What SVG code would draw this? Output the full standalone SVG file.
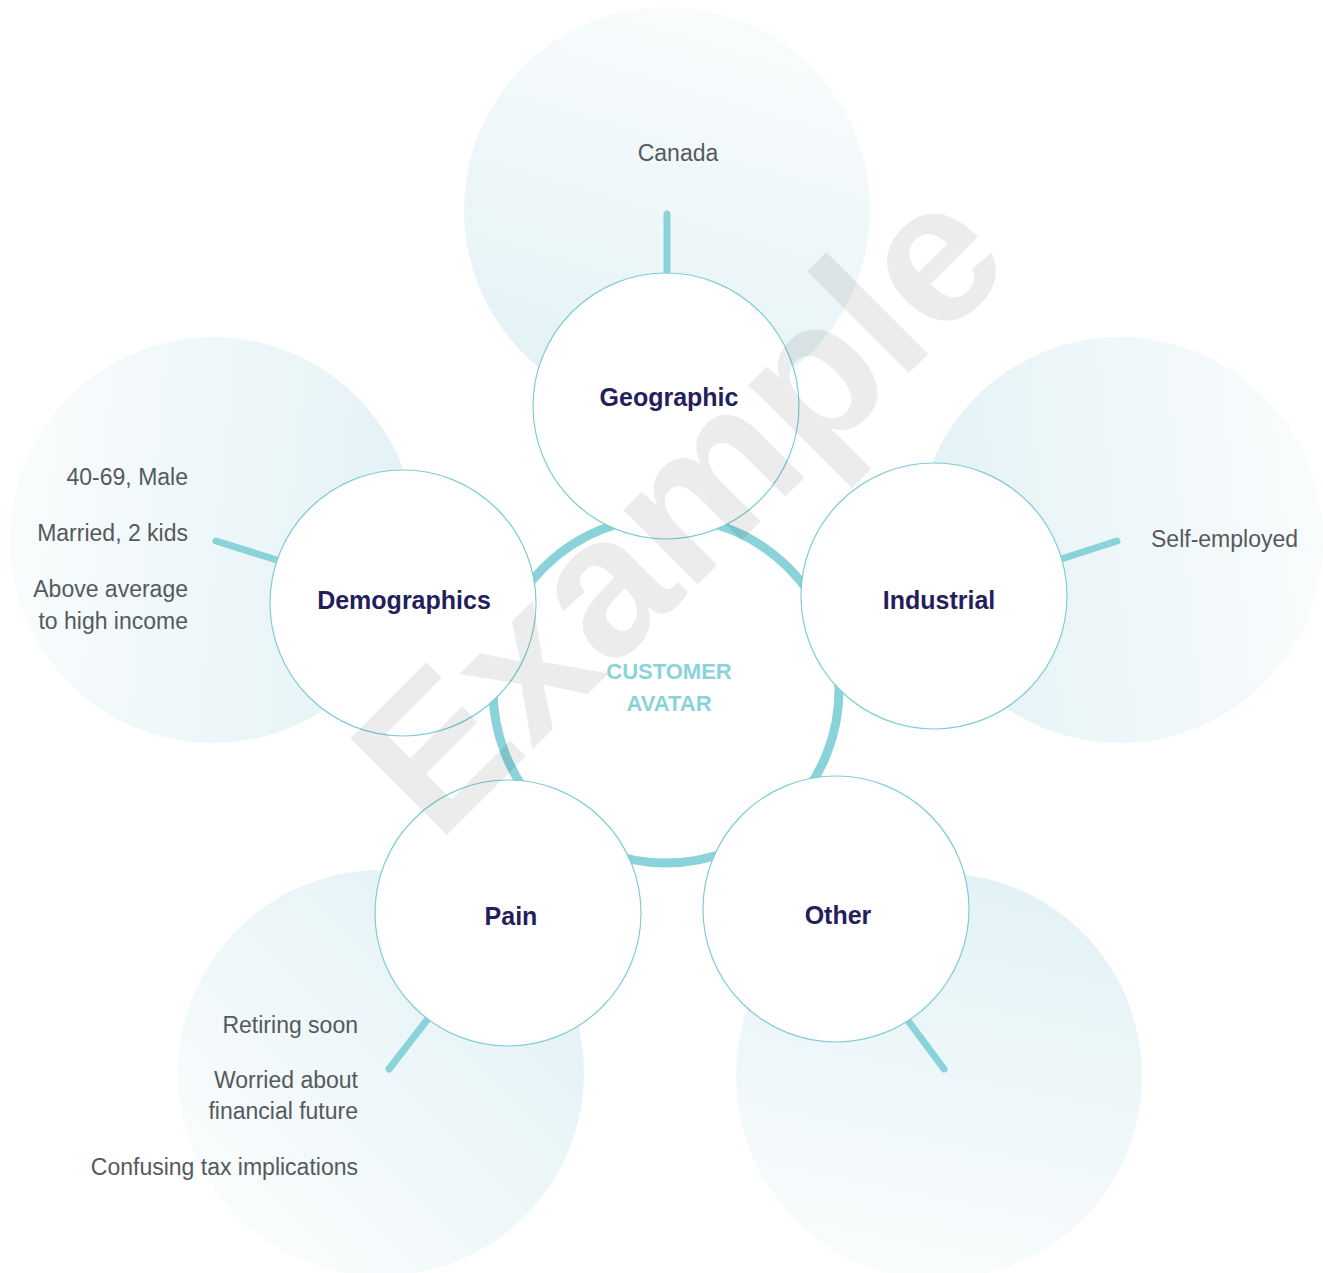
<svg xmlns="http://www.w3.org/2000/svg" width="1323" height="1273" viewBox="0 0 1323 1273">
  <defs>
    <linearGradient id="gTop" x1="0.35" y1="1" x2="0.65" y2="0">
      <stop offset="0" stop-color="#e3f2f5"/>
      <stop offset="1" stop-color="#f9fcfd"/>
    </linearGradient>
    <linearGradient id="gLeft" x1="1" y1="0.55" x2="0" y2="0.45">
      <stop offset="0" stop-color="#e3f2f5"/>
      <stop offset="1" stop-color="#f9fcfd"/>
    </linearGradient>
    <linearGradient id="gRight" x1="0" y1="0.55" x2="1" y2="0.45">
      <stop offset="0" stop-color="#e3f2f5"/>
      <stop offset="1" stop-color="#f9fcfd"/>
    </linearGradient>
    <linearGradient id="gBL" x1="0.85" y1="0.15" x2="0.15" y2="0.85">
      <stop offset="0" stop-color="#e3f2f5"/>
      <stop offset="1" stop-color="#f9fcfd"/>
    </linearGradient>
    <linearGradient id="gBR" x1="0.6" y1="0" x2="0.4" y2="1">
      <stop offset="0" stop-color="#e3f2f5"/>
      <stop offset="1" stop-color="#f9fcfd"/>
    </linearGradient>
    <style>
      .node { fill: #ffffff; stroke: #7fcdd6; stroke-width: 1.2; }
      .spoke { stroke: #8ad3db; stroke-width: 7; stroke-linecap: round; fill: none; }
      .ring { fill: #ffffff; stroke: #8ad3db; stroke-width: 9; }
      .title { font-family: "Liberation Sans", Arial, sans-serif; font-weight: bold; font-size: 25px; fill: #241f5c; text-anchor: middle; }
      .item { font-family: "Liberation Sans", Arial, sans-serif; font-size: 23px; fill: #55595e; }
      .center { font-family: "Liberation Sans", Arial, sans-serif; font-weight: bold; font-size: 22px; fill: #8ad3db; text-anchor: middle; }
      .mark { font-family: "Liberation Sans", Arial, sans-serif; font-weight: bold; font-size: 199px; fill: #000000; fill-opacity: 0.075; text-anchor: middle; }
    </style>
  </defs>

  <!-- soft background discs behind each category -->
  <g id="backdrops">
    <circle cx="667" cy="210" r="203" fill="url(#gTop)"/>
    <circle cx="213" cy="540" r="203" fill="url(#gLeft)"/>
    <circle cx="1120" cy="540" r="203" fill="url(#gRight)"/>
    <circle cx="381" cy="1073" r="203" fill="url(#gBL)"/>
    <circle cx="939" cy="1076" r="203" fill="url(#gBR)"/>
  </g>

  <!-- hub ring and spokes -->
  <g id="connectors">
    <circle class="ring" cx="666" cy="690" r="173"/>
    <line class="spoke" x1="667" y1="214" x2="667" y2="280"/>
    <line class="spoke" x1="216" y1="541" x2="280" y2="561"/>
    <line class="spoke" x1="1117" y1="541" x2="1058" y2="560"/>
    <line class="spoke" x1="389" y1="1069" x2="430" y2="1016"/>
    <line class="spoke" x1="944" y1="1069" x2="906" y2="1018"/>
  </g>

  <g id="hub">
    <text class="center" x="669" y="679">CUSTOMER</text>
    <text class="center" x="669" y="711">AVATAR</text>
  </g>

  <g id="geographic">
    <circle class="node" cx="666" cy="406" r="133"/>
    <text class="title" x="669" y="406">Geographic</text>
    <text class="item" x="678" y="161" text-anchor="middle">Canada</text>
  </g>

  <g id="demographics">
    <circle class="node" cx="403" cy="603" r="133"/>
    <text class="title" x="404" y="609">Demographics</text>
    <g class="item" text-anchor="end">
      <text x="188" y="485">40-69, Male</text>
      <text x="188" y="541">Married, 2 kids</text>
      <text x="188" y="597">Above average</text>
      <text x="188" y="629">to high income</text>
    </g>
  </g>

  <g id="industrial">
    <circle class="node" cx="934" cy="596" r="133"/>
    <text class="title" x="939" y="609">Industrial</text>
    <text class="item" x="1151" y="547">Self-employed</text>
  </g>

  <g id="pain">
    <circle class="node" cx="508" cy="913" r="133"/>
    <text class="title" x="511" y="925">Pain</text>
    <g class="item" text-anchor="end">
      <text x="358" y="1033">Retiring soon</text>
      <text x="358" y="1088">Worried about</text>
      <text x="358" y="1119">financial future</text>
      <text x="358" y="1175">Confusing tax implications</text>
    </g>
  </g>

  <g id="other">
    <circle class="node" cx="836" cy="909" r="133"/>
    <text class="title" x="838" y="924">Other</text>
  </g>

  <!-- diagonal watermark -->
  <text class="mark" transform="translate(727 555) rotate(-45)" x="0" y="0">Example</text>
</svg>
